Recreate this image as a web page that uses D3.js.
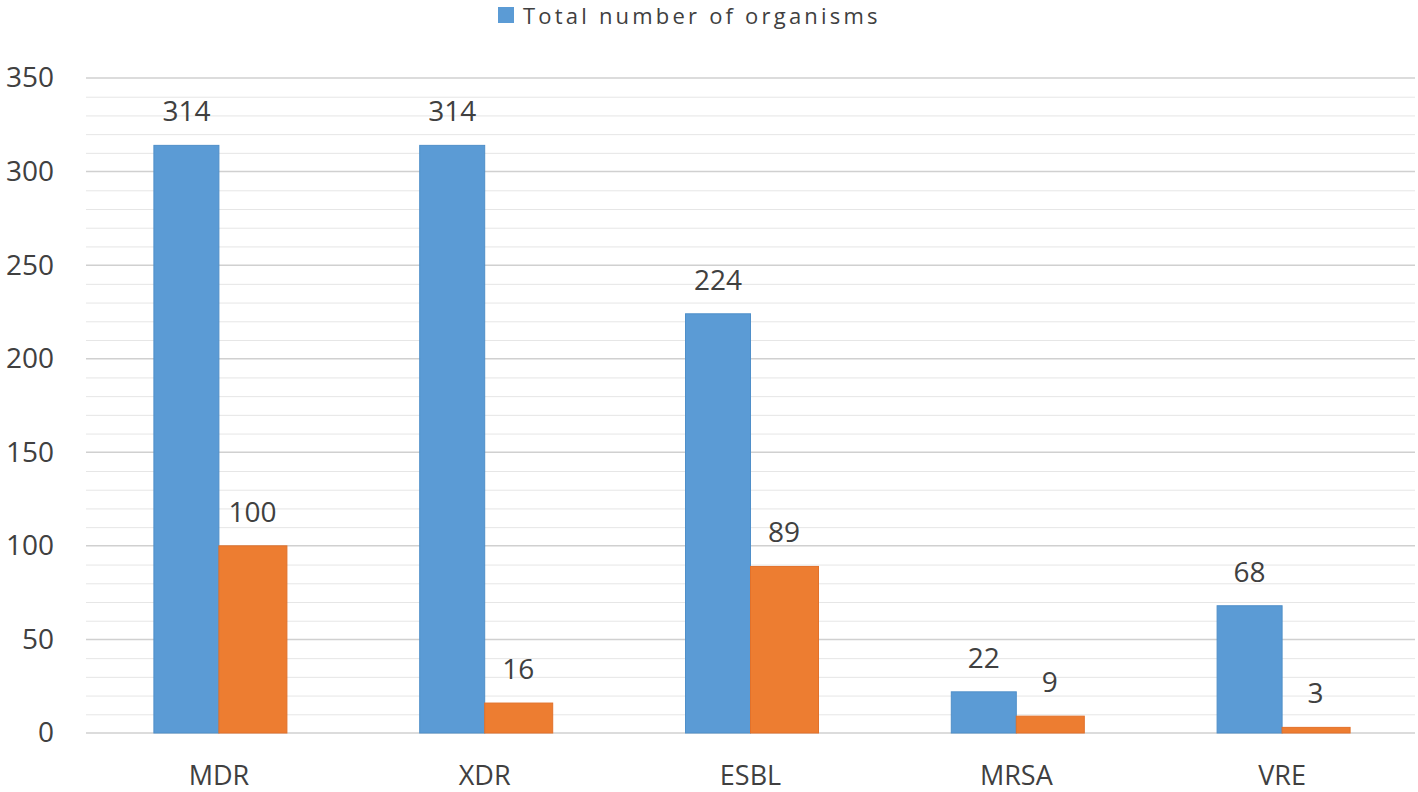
<!DOCTYPE html>
<html>
<head>
<meta charset="utf-8">
<script src="https://cdn.jsdelivr.net/npm/d3@7"></script>
<style>
  body { margin: 0; background: #fff; }
  text { font-family: "Open Sans", "Liberation Sans", sans-serif; fill: #404040; }
</style>
</head>
<body>
<script>
(function(){

    //chart data
    var categories = ["MDR", "XDR", "ESBL", "MRSA", "VRE"];
    var totalValues = [314, 314, 224, 22, 68];
    var secondValues = [100, 16, 89, 9, 3];
    var yTicks = [0, 50, 100, 150, 200, 250, 300, 350];
    var legendLabel = "Total number of organisms";

    var width = 1418,
        height = 792;

    var margin = {left: 86, right: 3, top: 78, bottom: 59};

    var svg = d3.select("body")
        .append("svg")
        .attr("width", width)
        .attr("height", height);

    //scales
    var x = d3.scaleBand()
        .domain(categories)
        .range([margin.left, width - margin.right]);

    var y = d3.scaleLinear()
        .domain([0, 350])
        .range([height - margin.bottom, margin.top]);

    //minor gridlines every 10
    svg.append("g")
        .selectAll("line")
        .data(d3.range(0, 351, 10).filter(function(d){ return d % 50 != 0; }))
        .enter()
        .append("line")
        .attr("x1", margin.left)
        .attr("x2", width - margin.right)
        .attr("y1", function(d){ return y(d) + 0.5; })
        .attr("y2", function(d){ return y(d) + 0.5; })
        .style("stroke", "#e6e6e6")
        .style("stroke-width", 1);

    //major gridlines
    svg.append("g")
        .selectAll("line")
        .data(yTicks)
        .enter()
        .append("line")
        .attr("x1", margin.left)
        .attr("x2", width - margin.right)
        .attr("y1", function(d){ return y(d); })
        .attr("y2", function(d){ return y(d); })
        .style("stroke", "#d0d0d0")
        .style("stroke-width", 1.5);

    //y axis labels
    var yAxis = svg.append("g")
        .attr("transform", "translate(" + (margin.left - 32) + ",0)")
        .call(d3.axisLeft(y).tickValues(yTicks).tickSize(0).tickPadding(0));
    yAxis.select(".domain").remove();
    yAxis.selectAll("text")
        .style("font-size", "28px")
        .style("font-family", "'Open Sans', sans-serif")
        .attr("fill", "#404040");

    //x axis labels
    var xAxis = svg.append("g")
        .attr("transform", "translate(0," + (height - margin.bottom) + ")")
        .call(d3.axisBottom(x).tickSize(0).tickPadding(33));
    xAxis.select(".domain").remove();
    xAxis.selectAll("text")
        .style("font-size", "27px")
        .style("font-family", "'Open Sans', sans-serif")
        .attr("fill", "#404040");

    var barW = 65;

    //blue bars
    svg.append("g")
        .selectAll("rect")
        .data(categories)
        .enter()
        .append("rect")
        .attr("x", function(d){ return x(d) + x.bandwidth() / 2 - barW; })
        .attr("y", function(d, i){ return y(totalValues[i]); })
        .attr("width", barW)
        .attr("height", function(d, i){ return y(0) - y(totalValues[i]); })
        .attr("fill", "#5b9bd5")
        .style("stroke", "#4f8fc9")
        .style("stroke-width", 1);

    //orange bars
    svg.append("g")
        .selectAll("rect")
        .data(categories)
        .enter()
        .append("rect")
        .attr("x", function(d){ return x(d) + x.bandwidth() / 2; })
        .attr("y", function(d, i){ return y(secondValues[i]); })
        .attr("width", barW + 3)
        .attr("height", function(d, i){ return y(0) - y(secondValues[i]); })
        .attr("fill", "#ed7d31")
        .style("stroke", "#e2712a")
        .style("stroke-width", 1);

    //data labels
    svg.append("g")
        .selectAll("text")
        .data(categories)
        .enter()
        .append("text")
        .attr("x", function(d){ return x(d) + x.bandwidth() / 2 - barW / 2; })
        .attr("y", function(d, i){ return y(totalValues[i]) - 24; })
        .attr("text-anchor", "middle")
        .style("font-size", "28px")
        .text(function(d, i){ return totalValues[i]; });

    svg.append("g")
        .selectAll("text")
        .data(categories)
        .enter()
        .append("text")
        .attr("x", function(d){ return x(d) + x.bandwidth() / 2 + barW / 2 + 1; })
        .attr("y", function(d, i){ return y(secondValues[i]) - 24; })
        .attr("text-anchor", "middle")
        .style("font-size", "28px")
        .text(function(d, i){ return secondValues[i]; });

    //legend
    var legend = svg.append("g").attr("transform", "translate(498,7)");
    legend.append("rect")
        .attr("width", 16)
        .attr("height", 16)
        .attr("fill", "#5b9bd5");
    legend.append("text")
        .attr("x", 25)
        .attr("y", 17)
        .style("font-size", "22px")
        .style("letter-spacing", "3.2px")
        .text(legendLabel);
})();
</script>
</body>
</html>
